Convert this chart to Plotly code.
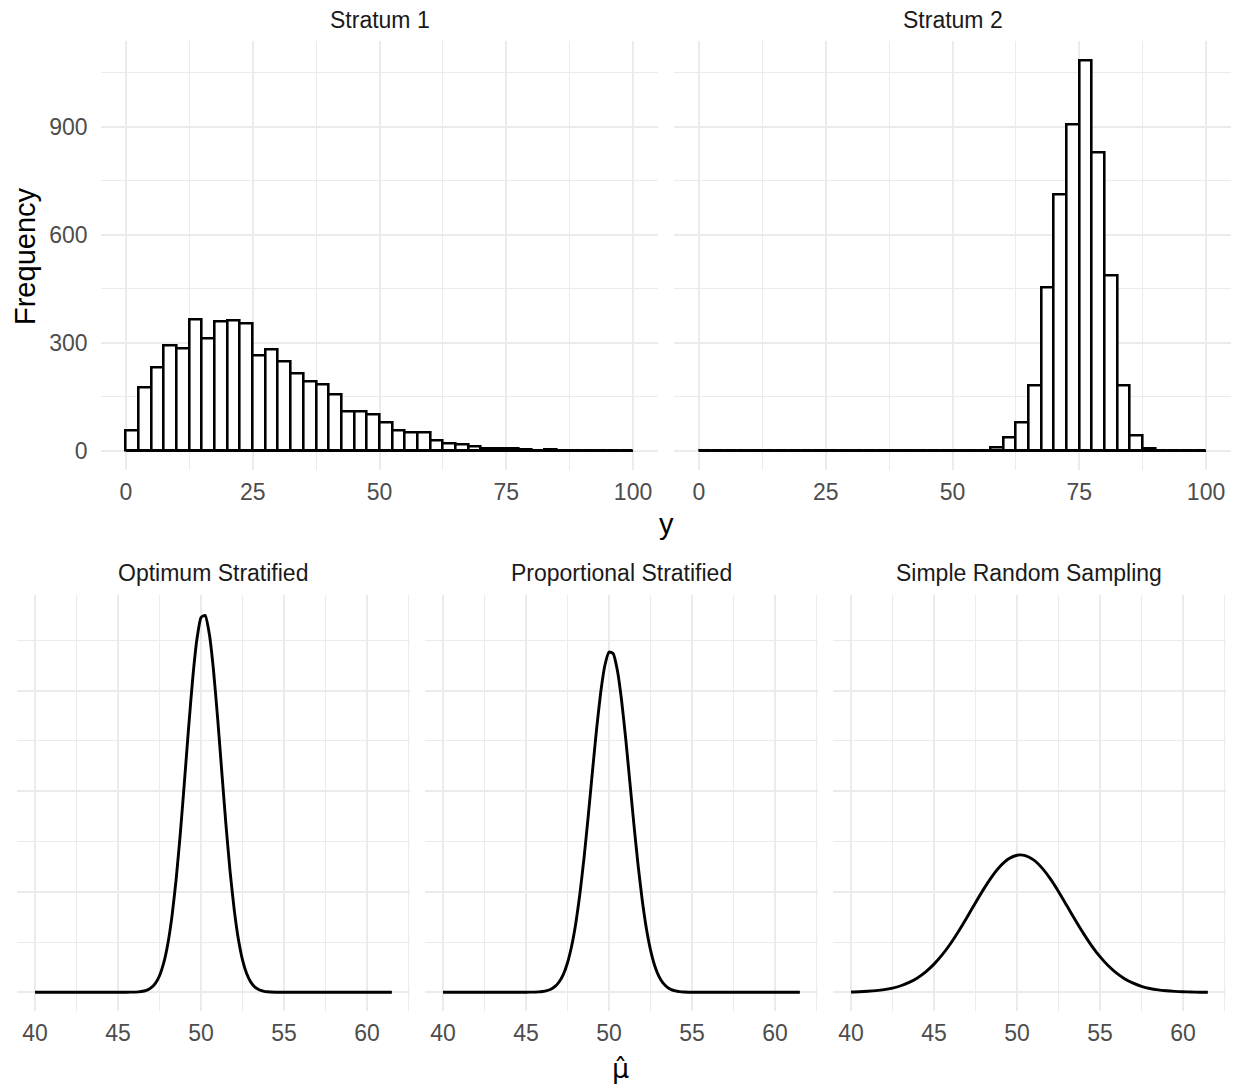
import plotly.graph_objects as go
import numpy as np

# ---------------- data ----------------
bin_width = 2.5
bin_start = 0.0
stratum1_counts = [55, 176, 232, 292, 285, 365, 312, 360, 361, 352,
                   265, 282, 248, 213, 191, 185, 156, 110, 108, 101,
                   79, 57, 50, 50, 27, 21, 18, 11, 7, 7,
                   5, 3, 1, 3, 1, 1, 0, 0, 0, 0]
stratum2_counts = [0, 0, 0, 0, 0, 0, 0, 0, 0, 0,
                   0, 0, 0, 0, 0, 0, 0, 0, 0, 0,
                   0, 0, 1, 9, 36, 79, 180, 454, 711, 905,
                   1085, 829, 487, 182, 42, 6, 0, 0, 0, 0]
top_x_ticks = [0, 25, 50, 75, 100]
top_y_ticks = [0, 300, 600, 900]
bottom_x_ticks = [40, 45, 50, 55, 60]
bottom_y_grid = [0, 0.1, 0.2, 0.3]

opt_x = [40, 42, 44, 45, 45.5, 46, 46.25, 46.5, 46.75, 47, 47.25, 47.5, 47.75,
         48, 48.25, 48.5, 48.75, 49, 49.25, 49.5, 49.75, 50, 50.25, 50.5, 50.75,
         51, 51.25, 51.5, 51.75, 52, 52.25, 52.5, 52.75, 53, 53.25, 53.5, 53.75,
         54, 54.5, 55, 56, 58, 60, 61.5]
opt_d = [0, 0, 0, 0, 0.0001, 0.0002, 0.0004, 0.0010, 0.0022, 0.0046, 0.0089, 0.0165, 0.0290,
         0.0481, 0.0755, 0.1121, 0.1573, 0.2090, 0.2625, 0.3119, 0.3505, 0.3726, 0.3747, 0.3564, 0.3207,
         0.2729, 0.2197, 0.1673, 0.1205, 0.0821, 0.0529, 0.0322, 0.0186, 0.0101, 0.0052, 0.0025, 0.0012,
         0.0005, 0.0001, 0, 0, 0, 0, 0]

prop_x = [40, 42, 44, 45, 45.5, 45.75, 46, 46.25, 46.5, 46.75, 47, 47.25, 47.5, 47.75,
          48, 48.25, 48.5, 48.75, 49, 49.25, 49.5, 49.75, 50, 50.25, 50.5, 50.75,
          51, 51.25, 51.5, 51.75, 52, 52.25, 52.5, 52.75, 53, 53.25, 53.5, 53.75,
          54, 54.25, 54.5, 55, 56, 58, 60, 61.5]
prop_d = [0, 0, 0, 0.0001, 0.0002, 0.0004, 0.0008, 0.0016, 0.0031, 0.0058, 0.0105, 0.0179, 0.0294, 0.0460,
          0.0687, 0.0983, 0.1344, 0.1755, 0.2191, 0.2614, 0.2981, 0.3249, 0.3384, 0.3368, 0.3205, 0.2914,
          0.2532, 0.2103, 0.1670, 0.1267, 0.0919, 0.0636, 0.0422, 0.0267, 0.0161, 0.0093, 0.0052, 0.0027,
          0.0014, 0.0007, 0.0003, 0.0001, 0, 0, 0, 0]

srs_x = [40, 40.5, 41, 41.5, 42, 42.5, 43, 43.5, 44, 44.5, 45, 45.5, 46, 46.5, 47, 47.5,
         48, 48.5, 49, 49.5, 50, 50.5, 51, 51.5, 52, 52.5, 53, 53.5, 54, 54.5, 55, 55.5,
         56, 56.5, 57, 57.5, 58, 58.5, 59, 59.5, 60, 60.5, 61, 61.5]
srs_d = [0.0003, 0.0005, 0.0010, 0.0016, 0.0026, 0.0042, 0.0065, 0.0098, 0.0143, 0.0203, 0.0280, 0.0374,
         0.0485, 0.0612, 0.0749, 0.0891, 0.1028, 0.1153, 0.1255, 0.1327, 0.1363, 0.1359, 0.1316, 0.1237,
         0.1130, 0.1002, 0.0862, 0.0721, 0.0586, 0.0462, 0.0354, 0.0263, 0.0190, 0.0133, 0.0091, 0.0060,
         0.0038, 0.0024, 0.0015, 0.0009, 0.0005, 0.0003, 0.0001, 0.0001]

panel_titles = ["Stratum 1", "Stratum 2", "Optimum Stratified", "Proportional Stratified",
                "Simple Random Sampling"]

# ---------------- figure ----------------
W, H = 1235, 1090
FONT = "Liberation Sans, Arial, sans-serif"
GRID = "#ebebeb"
TICKC = "#4d4d4d"

fig = go.Figure()

n_bins = len(stratum1_counts)
edges = bin_start + bin_width * np.arange(n_bins + 1)
centers = (edges[:-1] + edges[1:]) / 2

for i, counts in enumerate([stratum1_counts, stratum2_counts]):
    xa = "x" if i == 0 else "x2"
    ya = "y" if i == 0 else "y2"
    fig.add_trace(go.Scatter(x=[edges[0], edges[-1]], y=[0, 0], mode="lines",
                             line=dict(color="black", width=2.6), xaxis=xa, yaxis=ya,
                             showlegend=False, hoverinfo="skip"))
    fig.add_trace(go.Bar(x=centers, y=counts, width=bin_width,
                         marker=dict(color="white", line=dict(color="black", width=2.6)),
                         xaxis=xa, yaxis=ya, showlegend=False))

for j, (xs, ds) in enumerate([(opt_x, opt_d), (prop_x, prop_d), (srs_x, srs_d)]):
    fig.add_trace(go.Scatter(x=xs, y=ds, mode="lines",
                             line=dict(color="black", width=2.9, shape="spline", smoothing=0.5),
                             xaxis=f"x{j+3}", yaxis=f"y{j+3}", showlegend=False))


def px_x(a, b):
    return [a / W, b / W]


def px_y(top, bottom):
    return [1 - bottom / H, 1 - top / H]


base_axis = dict(showline=False, zeroline=False, ticks="", showgrid=True, gridcolor=GRID,
                 gridwidth=2.2, tickfont=dict(family=FONT, size=23, color=TICKC),
                 fixedrange=True)

top_xd = [px_x(100.6, 658.4), px_x(673.6, 1231.4)]
top_yd = px_y(40.6, 470.3)
bot_xd = [px_x(17.2, 409.7), px_x(425.2, 817.7), px_x(833.2, 1225.7)]
bot_yd = px_y(595.0, 1011.2)

layout = dict(width=W, height=H, margin=dict(l=0, r=0, t=0, b=0),
              paper_bgcolor="white", plot_bgcolor="white", bargap=0,
              font=dict(family=FONT))

top_minor_x = [(top_x_ticks[k] + top_x_ticks[k + 1]) / 2 for k in range(len(top_x_ticks) - 1)]
top_minor_y = [t + 150 for t in top_y_ticks]
bot_minor_x = [t + 2.5 for t in bottom_x_ticks]
bot_minor_y = [t + 0.05 for t in bottom_y_grid]

for i in range(2):
    key = "xaxis" if i == 0 else "xaxis2"
    layout[key] = dict(base_axis, domain=top_xd[i], range=[-5, 105], tickvals=top_x_ticks,
                       anchor="y" if i == 0 else "y2", ticklabelstandoff=6,
                       minor=dict(tickvals=top_minor_x, showgrid=True, gridcolor=GRID, gridwidth=1.1))
    ykey = "yaxis" if i == 0 else "yaxis2"
    layout[ykey] = dict(base_axis, domain=top_yd, range=[-54.25, 1139.25], tickvals=top_y_ticks,
                        anchor="x" if i == 0 else "x2", showticklabels=(i == 0),
                        ticklabelstandoff=12,
                        minor=dict(tickvals=top_minor_y, showgrid=True, gridcolor=GRID, gridwidth=1.1))

for j in range(3):
    xk = f"xaxis{j+3}"
    yk = f"yaxis{j+3}"
    layout[xk] = dict(base_axis, domain=bot_xd[j], range=[38.925, 62.575], tickvals=bottom_x_ticks,
                      anchor=f"y{j+3}", ticklabelstandoff=6,
                      minor=dict(tickvals=bot_minor_x, showgrid=True, gridcolor=GRID, gridwidth=1.1))
    layout[yk] = dict(base_axis, domain=bot_yd, range=[-0.0188, 0.395], tickvals=bottom_y_grid,
                      anchor=f"x{j+3}", showticklabels=False,
                      minor=dict(tickvals=bot_minor_y, showgrid=True, gridcolor=GRID, gridwidth=1.1))

fig.update_layout(**layout)

annots = []
title_pos = [((100.6 + 658.4) / 2, 20), ((673.6 + 1231.4) / 2, 20),
             ((17.2 + 409.7) / 2, 573), ((425.2 + 817.7) / 2, 573), ((833.2 + 1225.7) / 2, 573)]
for t, (cx, cy) in zip(panel_titles, title_pos):
    annots.append(dict(text=t, x=cx / W, y=1 - cy / H, xref="paper", yref="paper",
                       showarrow=False, xanchor="center", yanchor="middle",
                       font=dict(family=FONT, size=23, color="#1a1a1a")))
annots.append(dict(text="Frequency", x=25 / W, y=1 - 256 / H, xref="paper", yref="paper",
                   showarrow=False, textangle=-90, xanchor="center", yanchor="middle",
                   font=dict(family=FONT, size=29, color="black")))
annots.append(dict(text="y", x=666 / W, y=1 - 524 / H, xref="paper", yref="paper",
                   showarrow=False, xanchor="center", yanchor="middle",
                   font=dict(family=FONT, size=29, color="black")))
# mu-hat axis title (mu with combining circumflex)
annots.append(dict(text="\u03bc\u0302", x=621 / W, y=1 - 1068 / H, xref="paper", yref="paper",
                   showarrow=False, xanchor="center", yanchor="middle",
                   font=dict(family="DejaVu Sans", size=27, color="black")))
fig.update_layout(annotations=annots)

fig.write_html("out.html", config={"displayModeBar": False},
               post_script="document.body.style.margin='0';")
